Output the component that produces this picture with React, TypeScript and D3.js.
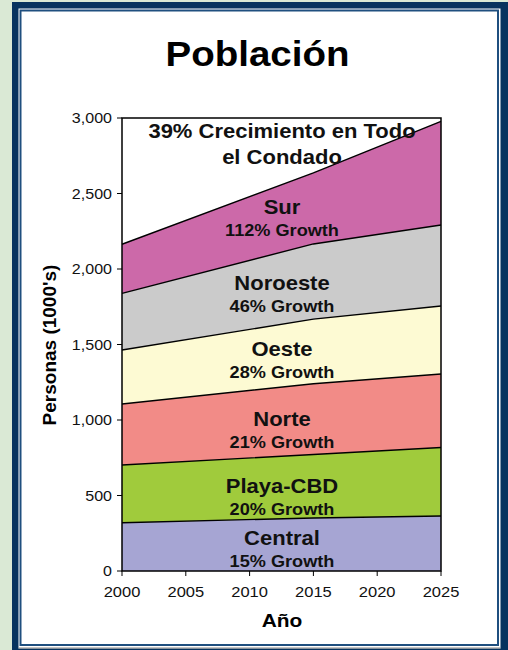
import React from "react";
import * as d3 from "d3";

const years = [2000, 2015, 2025];
const seriesNames = ["Central", "Playa-CBD", "Norte", "Oeste", "Noroeste", "Sur"];
const central = [320, 351, 364];
const playa = [382, 421, 454];
const norte = [404, 468, 487];
const oeste = [358, 428, 450];
const noroeste = [375, 498, 536];
const sur = [325, 470, 687];
const seriesColors = ["#a6a5d3", "#a0cb3c", "#f28b87", "#fdfad3", "#cbcbcb", "#cc69a9"];
const growthLabels = ["15% Growth", "20% Growth", "21% Growth", "28% Growth", "46% Growth", "112% Growth"];
const labelValues = [172, 517, 960, 1424, 1861, 2364];
const xTicks = [2000, 2005, 2010, 2015, 2020, 2025];
const yTicks = [0, 500, 1000, 1500, 2000, 2500, 3000];
const totalLabel = ["39% Crecimiento en Todo", "el Condado"];
const totalLabelValue = 2868;

const W = 508;
const H = 650;
const FONT = "'Liberation Sans', Arial, sans-serif";
const SX = 1.1;

function T(props: {
  x: number;
  y: number;
  size: number;
  anchor?: string;
  bold?: boolean;
  fill?: string;
  dy?: string;
  children: React.ReactNode;
}) {
  return (
    <text
      transform={`translate(${props.x},${props.y}) scale(${SX},1)`}
      textAnchor={props.anchor || "middle"}
      fontFamily={FONT}
      fontWeight={props.bold ? "bold" : "normal"}
      fontSize={props.size}
      fill={props.fill || "#111"}
      dy={props.dy}
    >
      {props.children}
    </text>
  );
}

export default function App() {
  React.useEffect(() => {
    document.body.style.margin = "0";
  }, []);

  const x = d3.scaleLinear().domain([2000, 2025]).range([122, 441]);
  const y = d3.scaleLinear().domain([0, 3000]).range([571, 118]);

  const values = [central, playa, norte, oeste, noroeste, sur];
  const rows = years.map((yr, i) => {
    const r: any = { year: yr };
    seriesNames.forEach((n, k) => (r[n] = values[k][i]));
    return r;
  });
  const stacked = d3.stack().keys(seriesNames)(rows as any);
  const area = d3
    .area<any>()
    .x((d) => x(d.data.year))
    .y0((d) => y(d[0]))
    .y1((d) => y(d[1]));
  const line = d3
    .line<any>()
    .x((d) => x(d.data.year))
    .y((d) => y(d[1]));

  const cx = 282;

  return (
    <svg width={W} height={H} style={{ position: "absolute", left: 0, top: 0, display: "block" }}>
      <rect x={0} y={0} width={W} height={H} fill="#dae9d5" />
      <rect x={12} y={2} width={W - 12} height={H} fill="#07335f" />
      <rect x={18.5} y={8.5} width={482} height={640} fill="#ffffff" />
      <rect x={20.5} y={10.5} width={477.5} height={634.5} fill="#ffffff" stroke="#1f4f7f" strokeWidth={2} />
      <line x1={18.5} x2={500.5} y1={648} y2={648} stroke="#8a8a8a" strokeWidth={1} />

      <T x={257.5} y={65.5} size={35} bold fill="#000">
        Población
      </T>

      <rect x={x(2000)} y={y(3000)} width={x(2025) - x(2000)} height={y(0) - y(3000)} fill="#ffffff" />
      {stacked.map((s, k) => (
        <path key={"a" + k} d={area(s as any) || ""} fill={seriesColors[k]} />
      ))}
      {stacked.map((s, k) => (
        <path key={"l" + k} d={line(s as any) || ""} fill="none" stroke="#000" strokeWidth={1.4} />
      ))}
      <rect
        x={x(2000)}
        y={y(3000)}
        width={x(2025) - x(2000)}
        height={y(0) - y(3000)}
        fill="none"
        stroke="#000"
        strokeWidth={1.5}
      />

      {yTicks.map((t) => (
        <g key={"yt" + t}>
          <line x1={x(2000) - 5} x2={x(2000)} y1={y(t)} y2={y(t)} stroke="#000" strokeWidth={1} />
          <T x={112} y={y(t)} dy="0.35em" anchor="end" size={14.6}>
            {d3.format(",")(t)}
          </T>
        </g>
      ))}
      {xTicks.map((t) => (
        <g key={"xt" + t}>
          <line x1={x(t)} x2={x(t)} y1={y(0)} y2={y(0) + 5} stroke="#000" strokeWidth={1} />
          <T x={x(t)} y={597} size={15}>
            {t}
          </T>
        </g>
      ))}

      <T x={282} y={627} size={19} bold fill="#000">
        Año
      </T>
      <text
        transform={`translate(56,345) rotate(-90)`}
        textAnchor="middle"
        fontFamily={FONT}
        fontWeight="bold"
        fontSize={19}
        fill="#000"
      >
        Personas (1000's)
      </text>

      {seriesNames.map((n, k) => (
        <g key={"lab" + k}>
          <T x={cx} y={y(labelValues[k])} size={20} bold>
            {n}
          </T>
          <T x={cx} y={y(labelValues[k]) + 22} size={16.5} bold>
            {growthLabels[k]}
          </T>
        </g>
      ))}
      <T x={cx} y={y(totalLabelValue)} size={20} bold>
        {totalLabel[0]}
      </T>
      <T x={cx} y={y(totalLabelValue) + 26} size={20} bold>
        {totalLabel[1]}
      </T>
    </svg>
  );
}
